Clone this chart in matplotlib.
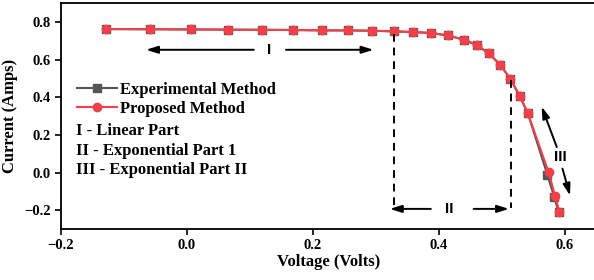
import matplotlib
matplotlib.use("Agg")
import matplotlib.pyplot as plt

# data
voltage = [-0.129, -0.059, 0.006, 0.065, 0.119, 0.168, 0.214, 0.255, 0.293, 0.328,
           0.359, 0.388, 0.414, 0.439, 0.460, 0.479, 0.497, 0.513, 0.528, 0.541,
           0.574, 0.584, 0.591]
current_prop = [0.762, 0.761, 0.760, 0.759, 0.758, 0.757, 0.755, 0.755, 0.753, 0.750,
                0.746, 0.741, 0.728, 0.706, 0.677, 0.633, 0.573, 0.499, 0.408, 0.315,
                0.002, -0.122, -0.208]
voltage_exp = voltage[:-3] + [0.572, 0.583, 0.590]
current_exp = current_prop[:-3] + [-0.012, -0.130, -0.212]

xticks = [-0.2, 0.0, 0.2, 0.4, 0.6]
yticks = [-0.2, 0.0, 0.2, 0.4, 0.6, 0.8]
notes = ["I - Linear Part", "II - Exponential Part 1", "III - Exponential Part II"]

plt.rcParams["font.family"] = ["Liberation Serif", "DejaVu Serif"]
plt.rcParams["font.weight"] = "bold"
plt.rcParams["axes.labelweight"] = "bold"

fig = plt.figure(figsize=(5.94, 2.8), dpi=100)
ax = fig.add_axes([0.1027, 0.182, 0.9015, 0.807])

ax.plot(voltage_exp, current_exp, color="#555555", marker="s", ms=5.5, lw=1.5,
        label="Experimental Method")
ax.plot(voltage, current_prop, color="#f2404a", marker="o", ms=6, lw=1.5,
        label="Proposed Method")

ax.set_xlim(-0.2, 0.65)
ax.set_ylim(-0.3, 0.9)
ax.set_xticks(xticks)
ax.set_yticks(yticks)
ax.tick_params(labelsize=10.5, direction="out", length=4, width=1.2)
ax.spines["right"].set_visible(False)
for s in ["left", "bottom", "top"]:
    ax.spines[s].set_linewidth(1.3)
ax.set_xlabel("Voltage (Volts)", fontsize=12, labelpad=1)
ax.set_ylabel("Current (Amps)", fontsize=12, labelpad=4)

leg = ax.legend(loc="upper left", bbox_to_anchor=(0.015, 0.688), frameon=False,
                fontsize=12, handlelength=2.4, handletextpad=0.15, labelspacing=0.2,
                borderpad=0)

for i, t in enumerate(notes):
    ax.text(-0.176, 0.223 - i * 0.106, t, fontsize=12, fontweight="bold", va="center")

arr = dict(arrowstyle="-|>,head_length=0.7,head_width=0.22", color="black", lw=1.4,
           shrinkA=0, shrinkB=0)

# region I
ax.annotate("", xy=(-0.065, 0.652), xytext=(0.106, 0.652), arrowprops=arr)
ax.annotate("", xy=(0.296, 0.652), xytext=(0.157, 0.652), arrowprops=arr)
ax.text(0.131, 0.652, "I", family="Liberation Sans", fontsize=11, fontweight="bold",
        ha="center", va="center")

# region II
ax.plot([0.328, 0.328], [0.735, -0.19], color="black", lw=1.4, ls=(0, (4, 3)))
ax.plot([0.514, 0.514], [0.49, -0.19], color="black", lw=1.4, ls=(0, (4, 3)))
ax.annotate("", xy=(0.322, -0.193), xytext=(0.387, -0.193), arrowprops=arr)
ax.annotate("", xy=(0.511, -0.193), xytext=(0.455, -0.193), arrowprops=arr)
ax.text(0.417, -0.193, "II", family="Liberation Sans", fontsize=11, fontweight="bold",
        ha="center", va="center")

# region III
ax.annotate("", xy=(0.563, 0.35), xytext=(0.587, 0.135), arrowprops=arr)
ax.annotate("", xy=(0.608, -0.122), xytext=(0.596, 0.021), arrowprops=arr)
ax.text(0.592, 0.08, "III", family="Liberation Sans", fontsize=11, fontweight="bold",
        ha="center", va="center")

fig.savefig("out.png", dpi=100)
